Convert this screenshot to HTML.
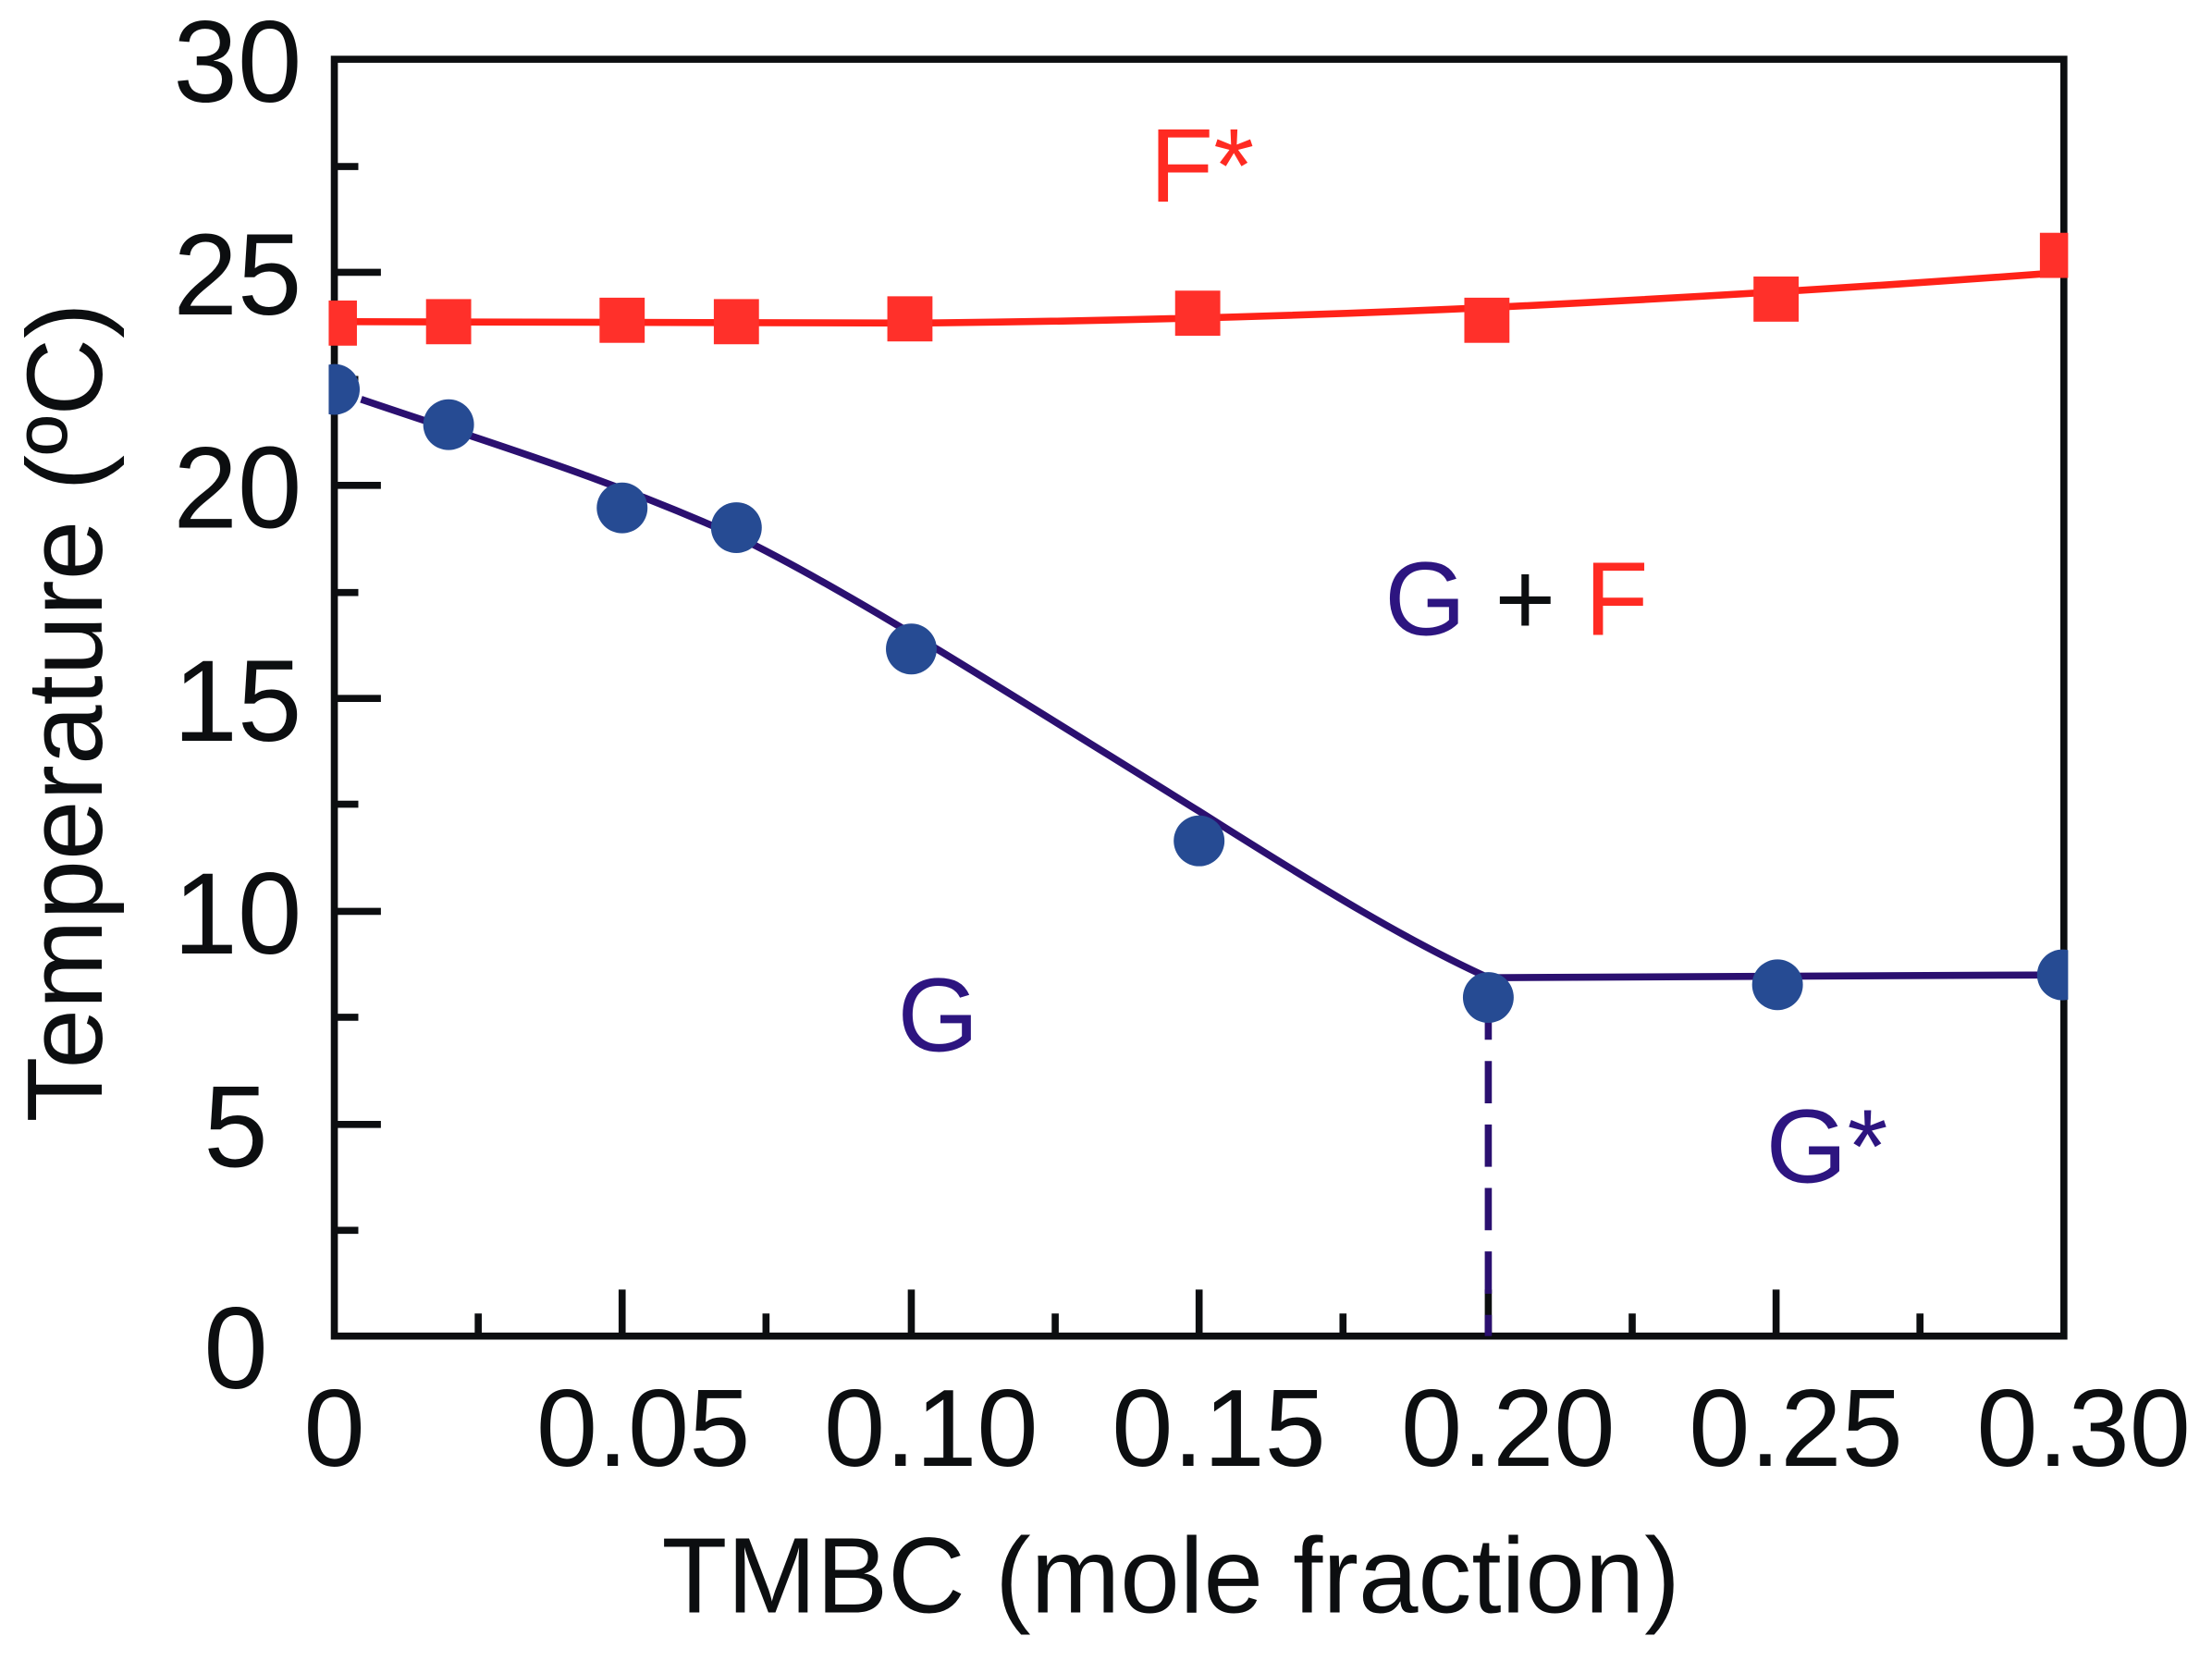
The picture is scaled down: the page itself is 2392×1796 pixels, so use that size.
<!DOCTYPE html>
<html><head><meta charset="utf-8"><style>
html,body{margin:0;padding:0;background:#fff;}
svg{display:block;}
text{font-family:"Liberation Sans",Arial,sans-serif;}
</style></head><body>
<svg width="2392" height="1796" viewBox="0 0 1568 1177.3" xmlns="http://www.w3.org/2000/svg">
<defs><clipPath id="c"><rect x="233" y="0" width="1233" height="1177"/></clipPath></defs>
<g stroke="#0c0e10" stroke-width="5" fill="none">
<rect x="237" y="42" width="1226" height="905"/>
<path d="M237 118H254 M237 193H270 M237 269H254 M237 344H270 M237 420H254 M237 495H270 M237 570H254 M237 646H270 M237 721H254 M237 797H270 M237 872H254"/>
<path d="M339 947V931 M441 947V914 M543 947V931 M646 947V914 M748 947V931 M850 947V914 M952 947V931 M1055 947V914 M1157 947V931 M1259 947V914 M1361 947V931"/>
</g>
<g font-size="82" fill="#0c0e10" text-anchor="end">
<text x="214" y="72">30</text>
<text x="214" y="223">25</text>
<text x="214" y="374">20</text>
<text x="214" y="525">15</text>
<text x="214" y="676">10</text>
<text x="190" y="827">5</text>
<text x="190" y="984">0</text>
</g>
<g font-size="78" fill="#0c0e10" text-anchor="middle">
<text x="237" y="1039">0</text>
<text x="456" y="1039">0.05</text>
<text x="660" y="1039">0.10</text>
<text x="864" y="1039">0.15</text>
<text x="1069" y="1039">0.20</text>
<text x="1273" y="1039">0.25</text>
<text x="1477" y="1039">0.30</text>
</g>
<text x="830" y="1143" font-size="76" text-anchor="middle" fill="#0c0e10">TMBC (mole fraction)</text>
<text transform="translate(72,505) rotate(-90)" font-size="76" text-anchor="middle" fill="#0c0e10">Temperature (ºC)</text>
<g clip-path="url(#c)">
<path d="M237 228 C400 229 560 230 646 229 C760 228 900 225 1055 218 C1200 211 1330 203 1463 193" stroke="#ff2218" stroke-width="5" fill="none"/>
<g fill="#ff302a">
<rect x="221" y="213" width="32" height="32"/>
<rect x="302" y="212" width="32" height="32"/>
<rect x="425" y="211" width="32" height="32"/>
<rect x="506" y="212" width="32" height="32"/>
<rect x="629" y="210" width="32" height="32"/>
<rect x="833" y="206" width="32" height="32"/>
<rect x="1038" y="211" width="32" height="32"/>
<rect x="1243" y="196" width="32" height="32"/>
<rect x="1446" y="165" width="32" height="32"/>
</g>
<path d="M256 283 C350 315 420 335 522 380 C600 418 700 482 850 575 C940 632 1000 668 1055 693 L1463 691" stroke="#2b1070" stroke-width="5" fill="none"/>
<path d="M1055 707 V947" stroke="#2b1070" stroke-width="5" stroke-dasharray="30,15" fill="none"/>
<g fill="#264b93">
<circle cx="237" cy="276" r="18"/>
<circle cx="318" cy="301" r="18"/>
<circle cx="441" cy="360" r="18"/>
<circle cx="522" cy="374" r="18"/>
<circle cx="646" cy="460" r="18"/>
<circle cx="850" cy="596" r="18"/>
<circle cx="1055" cy="707" r="18"/>
<circle cx="1260" cy="698" r="18"/>
<circle cx="1462" cy="691" r="18"/>
</g>
</g>
<text x="852" y="143" font-size="74" text-anchor="middle" fill="#ff2a22">F*</text>
<text x="1075" y="450" font-size="74" text-anchor="middle"><tspan fill="#2d1580">G</tspan><tspan fill="#0c0e10"> + </tspan><tspan fill="#ff2a22">F</tspan></text>
<text x="665" y="745" font-size="74" text-anchor="middle" fill="#2d1580">G</text>
<text x="1295" y="838" font-size="74" text-anchor="middle" fill="#2d1580">G*</text>
</svg>
</body></html>
